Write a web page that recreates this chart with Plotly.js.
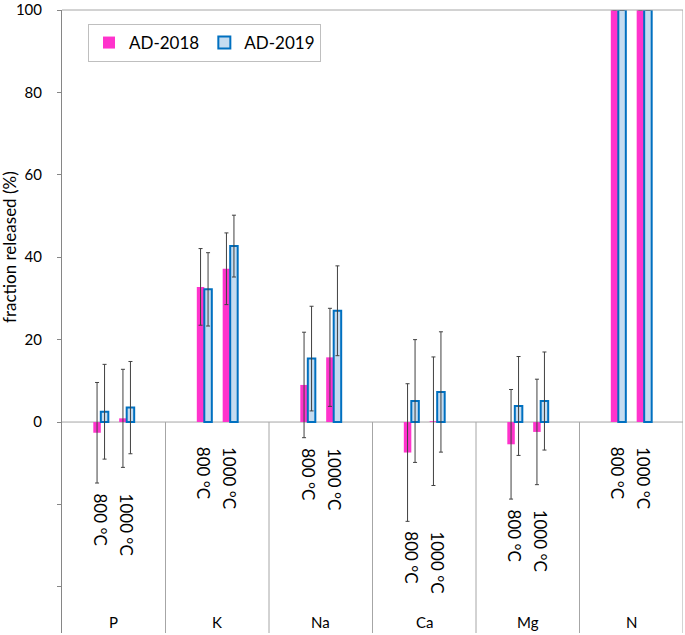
<!DOCTYPE html>
<html>
<head>
<meta charset="utf-8">
<script src="https://cdn.plot.ly/plotly-3.0.1.min.js"></script>
<style>
	html, body { margin: 0; padding: 0; background: #ffffff; }
	#plot { width: 685px; height: 635px; }
</style>
</head>
<body>
<div id="plot"></div>
<script>
const groups = ["P", "K", "Na", "Ca", "Mg", "N"];
const temps = ["800 °C", "1000 °C"];

// values per group: [800 °C, 1000 °C]
const ad2018 = [-2.6, 0.9, 32.8, 37.2, 9.0, 15.7, -7.4, 0.2, -5.4, -2.4, 100, 100];
const ad2018Err = [12.2, 11.9, 9.3, 8.7, 12.8, 11.9, 16.7, 15.6, 13.3, 12.8, 0, 0];
const ad2019 = [2.5, 3.5, 32.2, 42.7, 15.4, 27.0, 5.1, 7.3, 3.9, 5.1, 100, 100];
const ad2019Err = [11.5, 11.2, 8.9, 7.5, 12.7, 10.9, 14.9, 14.6, 12.0, 11.9, 0, 0];

const fontFamily = "Lato, 'Open Sans', sans-serif";
const slotsPerGroup = 4;
const yMin = -51.2;
const yMax = 100;
const marginTop = 10;
const marginBottom = 2;
const plotH = 635 - marginTop - marginBottom;

// each group has 4 slots, the two temperatures sit in slots 2 and 3
const xPos = [];
const tempLabels = [];
groups.forEach((g, gi) => {
	temps.forEach((t, ti) => {
		xPos.push(gi * slotsPerGroup + 1.5 + ti);
		tempLabels.push(t);
	});
});

const errStyle = (arr) => ({
	type: "data",
	array: arr,
	visible: true,
	color: "#404040",
	thickness: 1,
	width: 2,
});

const traces = [
	{
		x: xPos,
		y: ad2018,
		type: "bar",
		name: "AD-2018",
		marker: { color: "#ff33cc", line: { width: 0 } },
		error_y: errStyle(ad2018Err),
		hoverinfo: "y",
	},
	{
		x: xPos,
		y: ad2019,
		type: "bar",
		name: "AD-2019",
		marker: { color: "#c5dcf0", line: { color: "#0070c0", width: 2 } },
		error_y: errStyle(ad2019Err),
		hoverinfo: "y",
	},
];

// temperature labels sit just under the lowest error bar of their group
const annotations = [];
groups.forEach((g, gi) => {
	let low = 0;
	for (let k = 0; k < temps.length; k++) {
		const i = gi * temps.length + k;
		low = Math.min(low, ad2018[i] - ad2018Err[i], ad2019[i] - ad2019Err[i]);
	}
	const yTop = Math.min(-5.6, low - 2);
	temps.forEach((t, ti) => {
		const i = gi * temps.length + ti;
		annotations.push({
			x: xPos[i],
			y: yTop,
			xref: "x",
			yref: "y",
			text: tempLabels[i],
			textangle: 90,
			showarrow: false,
			xanchor: "center",
			yanchor: "top",
			font: { family: fontFamily, size: 17, color: "#000000" },
		});
	});
	annotations.push({
		x: gi * slotsPerGroup + slotsPerGroup / 2,
		y: 0.018,
		xref: "x",
		yref: "paper",
		text: g,
		showarrow: false,
		xanchor: "center",
		yanchor: "middle",
		font: { family: fontFamily, size: 15, color: "#000000" },
	});
});

// y title, placed in pixels then turned into paper units
annotations.push({
	x: (10 - 62) / 621,
	y: (635 - marginBottom - 247) / plotH,
	xref: "paper",
	yref: "paper",
	xanchor: "center",
	yanchor: "middle",
	text: "fraction released (%)",
	textangle: -90,
	showarrow: false,
	font: { family: fontFamily, size: 17, color: "#000000" },
});

const shapes = [];
const zeroFrac = -yMin / (yMax - yMin);
// group separators from the zero line down to the bottom
for (let gi = 1; gi < groups.length; gi++) {
	shapes.push({
		type: "line",
		xref: "x",
		yref: "paper",
		x0: gi * slotsPerGroup,
		x1: gi * slotsPerGroup,
		y0: 0,
		y1: zeroFrac,
		line: { color: "#a6a6a6", width: 1 },
	});
}
const xMax = groups.length * slotsPerGroup;
shapes.push(
	{
		type: "line",
		xref: "x",
		yref: "y",
		x0: 0,
		x1: xMax,
		y0: 0,
		y1: 0,
		line: { color: "#a6a6a6", width: 1 },
		layer: "below",
	},
	{
		type: "line",
		xref: "x",
		yref: "paper",
		x0: xMax,
		x1: xMax,
		y0: 0,
		y1: 1,
		line: { color: "#a6a6a6", width: 1 },
	},
	{
		type: "line",
		xref: "x",
		yref: "paper",
		x0: 0,
		x1: xMax,
		y0: 1,
		y1: 1,
		line: { color: "#a6a6a6", width: 1 },
	}
);

const layout = {
	width: 685,
	height: 635,
	margin: { l: 62, r: 2, t: marginTop, b: marginBottom },
	paper_bgcolor: "#ffffff",
	plot_bgcolor: "#ffffff",
	font: { family: fontFamily, color: "#000000" },
	barmode: "group",
	bargap: 0.42,
	bargroupgap: 0,
	showlegend: true,
	legend: {
		x: (88 - 62) / 621,
		y: (635 - marginBottom - 24) / plotH,
		xanchor: "left",
		yanchor: "top",
		orientation: "h",
		bordercolor: "#bfbfbf",
		borderwidth: 1,
		bgcolor: "#ffffff",
		font: { family: fontFamily, size: 17, color: "#000000" },
	},
	xaxis: {
		range: [0, xMax],
		showticklabels: false,
		ticks: "",
		showgrid: false,
		zeroline: false,
		showline: false,
		fixedrange: true,
	},
	yaxis: {
		range: [yMin, yMax],
		tickvals: [-40, -20, 0, 20, 40, 60, 80, 100],
		ticktext: ["", "", "0", "20", "40", "60", "80", "100"],
		ticks: "outside",
		ticklen: 4,
		tickcolor: "#868686",
		ticklabelstandoff: 12,
		ticklabeloverflow: "allow",
		tickfont: { family: fontFamily, size: 15, color: "#000000" },
		showgrid: false,
		zeroline: false,
		showline: true,
		linecolor: "#868686",
		linewidth: 1,
		fixedrange: true,
	},
	annotations: annotations,
	shapes: shapes,
};

Plotly.newPlot("plot", traces, layout, { displayModeBar: false, staticPlot: true });
</script>
</body>
</html>
